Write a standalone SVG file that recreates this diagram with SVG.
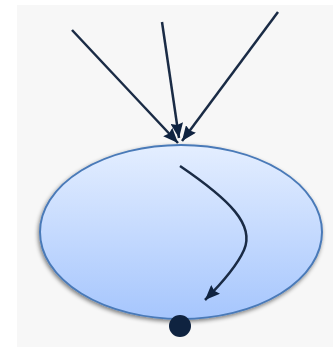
<svg xmlns="http://www.w3.org/2000/svg" width="333" height="347" viewBox="0 0 333 347">
<defs>
<linearGradient id="g" x1="0" y1="0" x2="0" y2="1">
<stop offset="0" stop-color="#e4eeff"/>
<stop offset="1" stop-color="#a6c6fd"/>
</linearGradient>
<filter id="sh" x="-10%" y="-10%" width="120%" height="125%">
<feGaussianBlur in="SourceAlpha" stdDeviation="2"/>
<feOffset dx="-1" dy="2"/>
<feComponentTransfer><feFuncA type="linear" slope="0.5"/></feComponentTransfer>
<feMerge><feMergeNode/><feMergeNode in="SourceGraphic"/></feMerge>
</filter>
<marker id="ah" viewBox="0 0 12 10" refX="12" refY="5" markerWidth="6" markerHeight="5" orient="auto" markerUnits="strokeWidth">
<path d="M0,0 L12,5 L0,10 L1.5,5 z" fill="#0f2340"/>
</marker>
<style>
.c{stroke:#1a2b45;stroke-width:2.5;fill:none;marker-end:url(#ah)}
</style>
</defs>
<rect x="17" y="5" width="316" height="342" fill="#f7f7f7"/>
<g id="state">
<ellipse cx="181" cy="232" rx="141" ry="87" fill="url(#g)" stroke="#4a7ab8" stroke-width="2" filter="url(#sh)"/>
</g>
<g id="final">
<circle cx="180" cy="326" r="11" fill="#0f2340"/>
</g>
<g id="connectors">
<path class="c" d="M72,30 L178,143"/>
<path class="c" d="M162,22 L179,138"/>
<path class="c" d="M278,12 L182,141"/>
<path class="c" d="M180,166 C230,200 255,225 244,250 C236,268 220,285 205,300"/>
</g>
</svg>
